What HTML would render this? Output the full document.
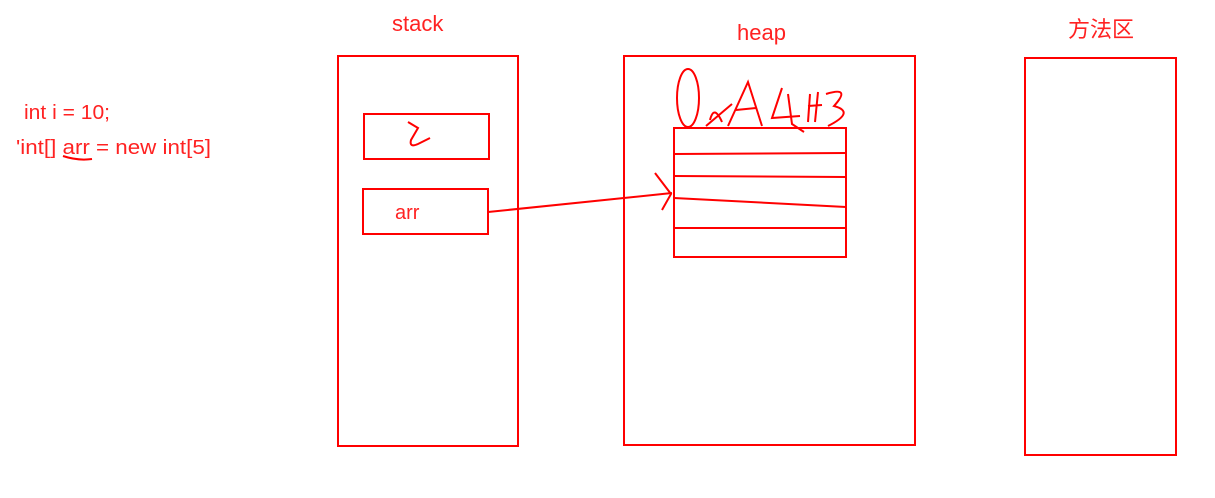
<!DOCTYPE html>
<html><head><meta charset="utf-8"><style>
html,body{margin:0;padding:0;background:#fff;}
svg{display:block}
text{font-family:"Liberation Sans","Noto Sans CJK SC",sans-serif;fill:#f22;}
</style></head><body>
<svg width="1215" height="498" viewBox="0 0 1215 498" xmlns="http://www.w3.org/2000/svg">
<g fill="none" stroke="#f00" stroke-width="2">
<rect x="338" y="56" width="180" height="390"/>
<rect x="624" y="56" width="291" height="389"/>
<rect x="1025" y="58" width="151" height="397"/>
<rect x="364" y="114" width="125" height="45"/>
<rect x="363" y="189" width="125" height="45"/>
<rect x="674" y="128" width="172" height="129"/>
<line x1="674" y1="154" x2="846" y2="153"/>
<line x1="674" y1="176" x2="846" y2="177"/>
<line x1="674" y1="198" x2="846" y2="207"/>
<line x1="674" y1="228" x2="846" y2="228"/>
<line x1="488" y1="212" x2="672" y2="193"/>
<path d="M655 173 L671 194 L662 210"/>
<path d="M408 122 L418 128 L411 140 Q409 148 418 144 L430 138"/>
<path d="M63 156 Q78 161 92 159"/>
<ellipse cx="688" cy="98" rx="11" ry="29"/>
<path d="M710 120 Q714 104 722 122 M706 126 L732 104"/>
<path d="M728 126 L748 82 L762 126 M736 110 L756 108"/>
<path d="M782 88 L772 118 L800 116 M788 94 L792 124 L804 132"/>
<path d="M810 94 L808 122 M818 92 L815 122 M808 106 L822 105"/>
<path d="M826 94 Q852 86 834 106 Q856 112 828 126"/>
</g>
<text x="392" y="31" font-size="22">stack</text>
<text x="737" y="40" font-size="22">heap</text>
<text x="1068" y="37" font-size="22">方法区</text>
<text x="24" y="119" font-size="20" textLength="86" lengthAdjust="spacingAndGlyphs">int i = 10;</text>
<text x="16" y="154" font-size="20" textLength="195" lengthAdjust="spacingAndGlyphs">'int[] arr = new int[5]</text>
<text x="395" y="219" font-size="20">arr</text>
</svg>
</body></html>
